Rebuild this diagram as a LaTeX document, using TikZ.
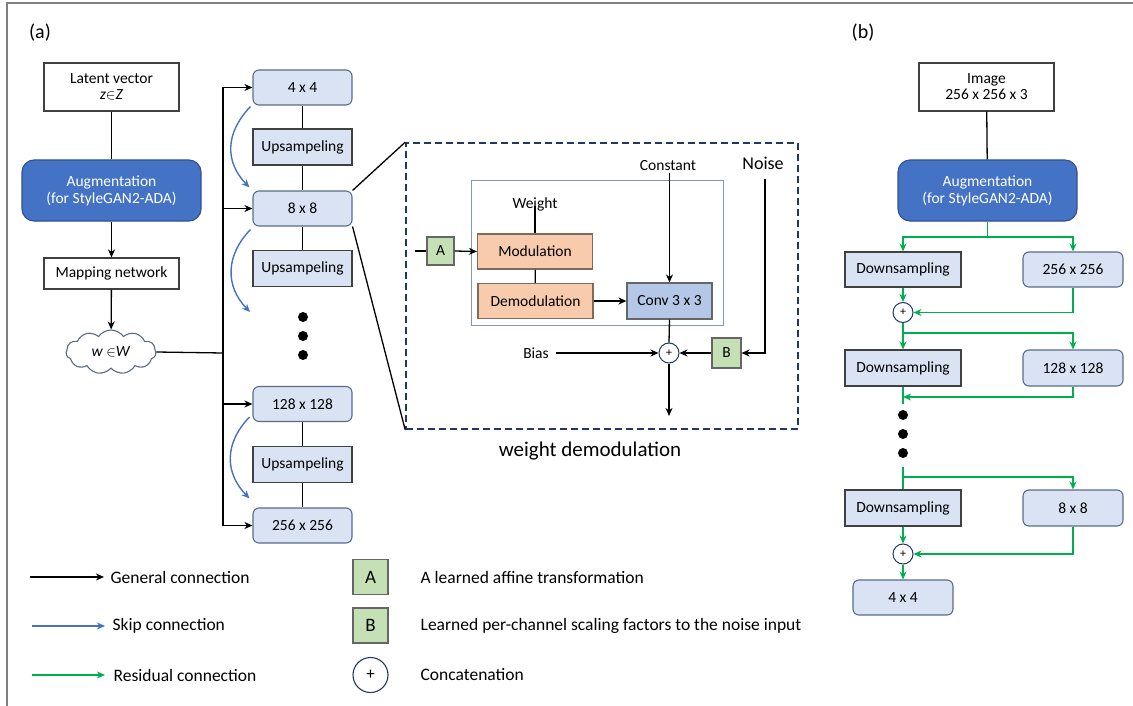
\documentclass[tikz,border=0pt]{standalone}
\usepackage{fontspec}
\setmainfont{Carlito}
\usetikzlibrary{arrows.meta,shapes.symbols,calc}
\definecolor{lightbox}{HTML}{DAE3F3}
\definecolor{roundedge}{HTML}{5B6B8C}
\definecolor{darkedge}{HTML}{404040}
\definecolor{augfill}{HTML}{4472C4}
\definecolor{augedge}{HTML}{2F528F}
\definecolor{skipblue}{HTML}{4472C4}
\definecolor{resgreen}{HTML}{00B050}
\definecolor{navy}{HTML}{203864}
\definecolor{innerframe}{HTML}{8497B0}
\definecolor{modfill}{HTML}{F8CBAD}
\definecolor{modedge}{HTML}{7F6A5E}
\definecolor{convfill}{HTML}{B4C7E7}
\definecolor{affine}{HTML}{C5E0B4}
\definecolor{framegray}{HTML}{7F7F7F}
\begin{document}
\begin{tikzpicture}[x=1pt,y=-1pt,
  line width=1.3pt,
  every node/.style={font=\fontsize{15.5}{18}\selectfont},
  tip/.style={-{Stealth[length=8pt,width=7pt,inset=2.5pt]}},
  plainbox/.style={draw=darkedge,fill=white,inner sep=0pt,align=center,line width=1.1pt},
  augbox/.style={draw=augedge,fill=augfill,text=white,rounded corners=12pt,inner sep=0pt,align=center,minimum width=179pt,minimum height=61pt,line width=1.1pt},
  sizebox/.style={draw=roundedge,fill=lightbox,rounded corners=6pt,inner sep=0pt,minimum height=35pt,line width=1.1pt},
  samplebox/.style={draw=darkedge,fill=lightbox,inner sep=0pt,minimum height=36pt,line width=1.1pt},
  modbox/.style={draw=modedge,fill=modfill,inner sep=0pt,minimum width=115pt,minimum height=35pt,line width=1.1pt},
  affbox/.style={draw=darkedge!80,fill=affine,inner sep=0pt,line width=1.1pt},
  plus/.style={circle,draw=navy,fill=white,inner sep=0pt,minimum size=20pt,line width=1pt,font=\fontsize{12}{14}\selectfont},
  dot/.style={circle,fill=black,inner sep=0pt,minimum size=10pt},
  skip/.style={draw=skipblue,line width=1.4pt,tip},
  res/.style={draw=resgreen,line width=1.8pt},
  label/.style={inner sep=1pt},
  legend/.style={anchor=west,inner sep=0pt,font=\fontsize{17.5}{20}\selectfont}
]
\useasboundingbox (0,0) rectangle (1133,706);
\draw[framegray,line width=1.2pt] (7,706) -- (7,3) -- (1133,3);

% ---------------- (a) generator ----------------
\node[font=\fontsize{20}{24}\selectfont] (taga) at (40,33) {(a)};
\node[plainbox,minimum width=135pt,minimum height=48pt] (lat) at (111.5,87)
  {Latent vector\\[-2pt]\textit{z}$\in$\textit{Z}};
\node[augbox] (auga) at (111.5,190.5) {Augmentation\\[-1pt](for StyleGAN2-ADA)};
\node[plainbox,minimum width=135pt,minimum height=31pt] (map) at (111.5,273.5) {Mapping network};
\node[cloud,cloud puffs=11,cloud puff arc=110,aspect=2,draw=roundedge,fill=white,line width=1.1pt,
  minimum width=90pt,minimum height=44pt,inner sep=0pt] (wcl) at (111,352) {\textit{w} $\in$\textit{W}};

\draw (lat) -- (auga);
\draw[tip] (auga) -- (map);
\draw[tip] (map) -- (wcl);

\node[sizebox,minimum width=99pt] (s4) at (302.5,87.5) {4 x 4};
\node[samplebox,minimum width=99pt] (up1) at (302.5,147) {Upsampeling};
\node[sizebox,minimum width=99pt] (s8) at (302.5,208.5) {8 x 8};
\node[samplebox,minimum width=99pt] (up2) at (302.5,268.5) {Upsampeling};
\node[dot] (da1) at (303,317) {};
\node[dot] (da2) at (303,336) {};
\node[dot] (da3) at (303,355) {};
\node[sizebox,minimum width=99pt] (s128) at (302.5,404) {128 x 128};
\node[samplebox,minimum width=99pt] (up3) at (302.5,464.5) {Upsampeling};
\node[sizebox,minimum width=99pt] (s256) at (302.5,525.5) {256 x 256};

\draw (s4) -- (up1) -- (s8) -- (up2);
\draw (s128) -- (up3) -- (s256);

\coordinate (trk) at (223,353);
\draw (wcl.east) -- (trk);
\draw[tip] (trk) |- (s4.west);
\draw[tip] (trk) |- (s8.west);
\draw[tip] (trk) |- (s128.west);
\draw[tip] (trk) |- (s256.west);

\coordinate (sk2) at (250,312);
\draw[skip] ([shift={(-2,1)}]s4.south west) .. controls +(-25,26) and +(-25,-26) .. ([shift={(-3,-3)}]s8.north west);
\draw[skip] ([shift={(-2,3)}]s8.south west) .. controls +(-25,26) and +(-25,-26) .. (sk2);
\draw[skip] ([shift={(-3,-5)}]s128.south west) .. controls +(-25,26) and +(-25,-26) .. ([shift={(-3,-9)}]s256.north west);

% ---------------- weight demodulation detail ----------------
\node[draw=navy,dashed,dash pattern=on 7pt off 4pt,line width=1.6pt,minimum width=392pt,minimum height=286pt,inner sep=0pt] (dbox) at (602,286) {};
\draw (s8.north east) -- (dbox.north west);
\draw (s8.south east) -- (dbox.south west);
\node[font=\fontsize{21}{24}\selectfont] (cap) at (590,451) {weight demodulation};

\node[draw=innerframe,line width=1pt,minimum width=252pt,minimum height=144pt,inner sep=0pt] (inner) at (597,253) {};
\node[label] (wlab) at (535,204) {Weight};
\node[modbox] (mod) at (535,251.5) {Modulation};
\node[modbox] (demod) at (535.5,301) {Demodulation};
\node[draw=darkedge!80,fill=convfill,inner sep=0pt,line width=1.1pt,minimum width=85pt,minimum height=36pt] (conv) at (669.5,301) {Conv 3 x 3};
\node[label] (const) at (668,166) {Constant};
\node[label,font=\fontsize{18}{21}\selectfont] (noise) at (763,163) {Noise};
\node[affbox,minimum width=27pt,minimum height=28pt] (A) at (440.5,251) {A};
\node[affbox,minimum width=29pt,minimum height=30pt] (B) at (726.5,353) {B};
\node[plus] (pl) at (669,353) {+};
\node[label] (bias) at (536,353) {Bias};

\coordinate (ain) at (415,251);
\coordinate (ntop) at (765,179);
\coordinate (out) at (669,416);

\draw (ain) -- (A.west);
\draw[tip] (A.east) -- (mod.west);
\draw ([yshift=6pt]wlab.south) -- (mod.north);
\draw (mod) -- (demod);
\draw[tip] (demod.east) -- (conv.west);
\draw[tip] (const.south -| conv.north) -- (conv.north);
\draw (conv.south) -- (pl.north);
\draw[tip] (bias.east) ++(6,0) -- (pl.west);
\draw[tip] (ntop) |- (B.east);
\draw[tip] (B.west) -- (pl.east);
\draw[tip] (pl.south) -- (out);

% ---------------- (b) discriminator ----------------
\node[font=\fontsize{20}{24}\selectfont] (tagb) at (863,33) {(b)};
\node[plainbox,minimum width=135pt,minimum height=48pt] (img) at (986.5,87)
  {Image\\[-2pt]256 x 256 x 3};
\node[augbox] (augb) at (987.5,190.5) {Augmentation\\[-1pt](for StyleGAN2-ADA)};
\node[samplebox,minimum width=116pt,minimum height=35pt] (d1) at (903,269.5) {Downsampling};
\node[sizebox,minimum width=100pt] (r256) at (1073,269.5) {256 x 256};
\node[plus] (p1) at (903,312.5) {+};
\node[samplebox,minimum width=116pt] (d2) at (903,368) {Downsampling};
\node[sizebox,minimum width=100pt,minimum height=36pt] (r128) at (1073,368) {128 x 128};
\node[dot] (db1) at (903,415) {};
\node[dot] (db2) at (903,434) {};
\node[dot] (db3) at (903,453) {};
\node[samplebox,minimum width=116pt] (d3) at (903,508) {Downsampling};
\node[sizebox,minimum width=100pt,minimum height=36pt] (r8) at (1073,508) {8 x 8};
\node[plus] (p2) at (903,554) {+};
\node[sizebox,minimum width=100pt] (r4) at (903,597.5) {4 x 4};

\draw (img) -- (augb);

\coordinate (g1) at (987.5,237);
\coordinate (g2) at (903,333);
\coordinate (g3) at (903,397);
\coordinate (g3e) at (903,404);
\coordinate (g4) at (903,467);
\coordinate (g5) at (903,477);

\draw[res] (augb.south) -- (g1);
\draw[res,tip] (g1) -| (d1.north);
\draw[res,tip] (g1) -| (r256.north);
\draw[res,tip] (d1.south) -- (p1.north);
\draw[res,tip] (r256.south) |- (p1.east);
\draw[res,tip] (p1.south) -- (d2.north);
\draw[res,tip] (g2) -| (r128.north);
\draw[res] (d2.south) -- (g3e);
\draw[res,tip] (r128.south) |- (g3);
\draw[res] (g4) -- (d3.north);
\draw[res,tip] (g5) -| (r8.north);
\draw[res,tip] (d3.south) -- (p2.north);
\draw[res,tip] (r8.south) |- (p2.east);
\draw[res,tip] (p2.south) -- (r4.north);

% ---------------- legend ----------------
\coordinate (lg1a) at (30,577);  \coordinate (lg1b) at (104,577);
\coordinate (lg2a) at (32,626);  \coordinate (lg2b) at (105,626);
\coordinate (lg3a) at (32,675);  \coordinate (lg3b) at (105,675);
\draw[tip] (lg1a) -- (lg1b);
\draw[skip] (lg2a) -- (lg2b);
\draw[res,tip] (lg3a) -- (lg3b);
\node[legend] (t1) at (110,577) {General connection};
\node[legend] (t2) at (112,626) {Skip connection};
\node[legend] (t3) at (113,675) {Residual connection};

\node[affbox,minimum size=35pt,font=\fontsize{19}{22}\selectfont] (LA) at (370.5,577) {A};
\node[affbox,minimum size=35pt,font=\fontsize{19}{22}\selectfont] (LB) at (370.5,625.5) {B};
\node[circle,draw=navy,line width=1.1pt,inner sep=0pt,minimum size=35pt,font=\fontsize{17}{20}\selectfont] (LP) at (370.5,675) {+};
\node[legend] (t4) at (420,577) {A learned affine transformation};
\node[legend] (t5) at (420,626) {Learned per-channel scaling factors to the noise input};
\node[legend] (t6) at (420,675) {Concatenation};
\end{tikzpicture}
\end{document}
